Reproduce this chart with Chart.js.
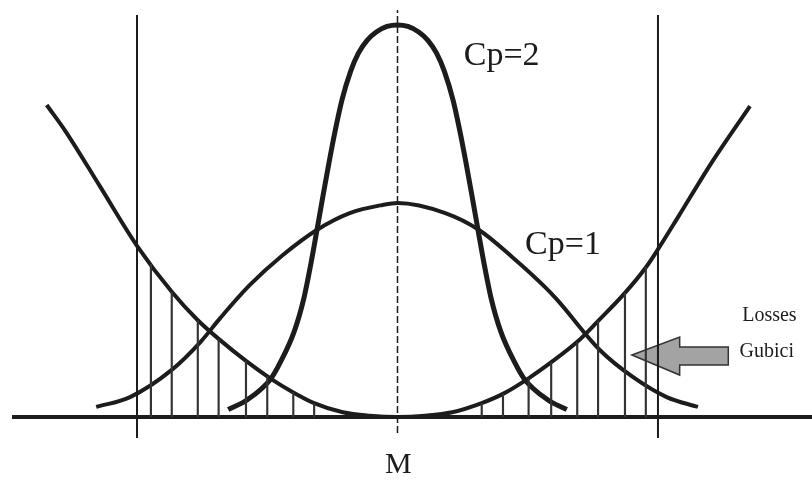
<!DOCTYPE html>
<html>
<head>
<meta charset="utf-8">
<script src="https://cdn.jsdelivr.net/npm/chart.js@4.4.1/dist/chart.umd.min.js"></script>
<style>
  body { margin: 0; background: #fff; }
  #wrap { width: 812px; height: 480px; }
</style>
</head>
<body>
<div id="wrap"><canvas id="myChart" width="812" height="480"></canvas></div>
<script>
// x in sigma units of the Cp=1 process (M = 0, limits at -3 / +3)
// y in units of the Cp=1 peak height
const cp1X = [-3.47, -3.08, -2.60, -2.27, -2.04, -1.70, -1.32, -0.93, -0.55, -0.17, 0, 0.55, 0.94, 1.32, 1.70, 1.84, 2.33, 2.71, 3.10, 3.46];
const cp1Y = [0.047, 0.093, 0.220, 0.350, 0.463, 0.617, 0.757, 0.874, 0.953, 0.991, 1.0, 0.953, 0.874, 0.748, 0.607, 0.547, 0.313, 0.187, 0.093, 0.047];

const cp2X = [-1.95, -1.725, -1.46, -1.35, -1.19, -1.077, -0.997, -0.933, -0.864, -0.79, -0.72, -0.64, -0.54, -0.45, -0.35, -0.24, -0.12, 0, 0.12, 0.24, 0.35, 0.45, 0.54, 0.64, 0.72, 0.79, 0.864, 0.933, 0.997, 1.077, 1.19, 1.35, 1.46, 1.725, 1.95];
const cp2Y = [0.035, 0.082, 0.178, 0.255, 0.399, 0.557, 0.717, 0.861, 1.020, 1.186, 1.333, 1.481, 1.615, 1.700, 1.760, 1.800, 1.825, 1.832, 1.825, 1.800, 1.760, 1.700, 1.615, 1.481, 1.333, 1.186, 1.020, 0.861, 0.717, 0.557, 0.399, 0.255, 0.178, 0.082, 0.035];

// loss function (parabola)
const lossX = [-4.04, -3.81, -3.43, -3.00, -2.60, -2.30, -2.06, -1.745, -1.47, -1.20, -0.96, -0.63, -0.32, 0, 0.32, 0.63, 0.97, 1.215, 1.514, 1.768, 2.067, 2.309, 2.62, 2.862, 3.01, 3.24, 3.62, 4.06];
const lossY = [1.458, 1.327, 1.080, 0.800, 0.585, 0.452, 0.365, 0.262, 0.182, 0.115, 0.065, 0.022, 0.006, 0, 0.006, 0.022, 0.065, 0.108, 0.182, 0.255, 0.350, 0.448, 0.580, 0.700, 0.790, 0.940, 1.190, 1.453];

// hatching under the loss curve
const hatchX = [-2.84, -2.60, -2.30, -2.06, -1.745, -1.50, -1.20, -0.96, 0.97, 1.215, 1.51, 1.77, 2.07, 2.31, 2.62, 2.86];
const hatchY = [0.714, 0.585, 0.452, 0.365, 0.262, 0.190, 0.115, 0.065, 0.065, 0.108, 0.182, 0.255, 0.350, 0.448, 0.580, 0.700];

const specLimits = [-3, 3];
const centerM = 0;

const ink = '#1c1c1c';
const serif = '"Liberation Serif", "Times New Roman", serif';

const pts = (xs, ys) => xs.map((x, i) => ({ x: x, y: ys[i] }));

const curve = (data, width) => ({
    type: 'line',
    data: data,
    borderColor: ink,
    borderWidth: width,
    pointRadius: 0,
    cubicInterpolationMode: 'monotone',
    fill: false
});

const straight = (data, width, dash) => ({
    type: 'line',
    data: data,
    borderColor: ink,
    borderWidth: width,
    borderDash: dash || [],
    pointRadius: 0,
    tension: 0,
    fill: false
});

const texts = [
    { text: 'Cp=2', x: 1.20, y: 1.687, size: 34 },
    { text: 'Cp=1', x: 1.906, y: 0.804, size: 34 },
    { text: 'M', x: 0.01, y: -0.224, size: 30 },
    { text: 'Losses', x: 3.97, y: 0.472, size: 20, align: 'left' },
    { text: 'Gubici', x: 3.94, y: 0.304, size: 20, align: 'left' }
];

// arrow pointing at the hatched area
const arrowShape = [[2.70, 0.290], [3.25, 0.374], [3.25, 0.327], [3.81, 0.327], [3.81, 0.243], [3.25, 0.243], [3.25, 0.196]];

const decor = {
    id: 'decor',
    beforeDatasetsDraw(chart) {
        const { ctx, scales: { x, y } } = chart;
        ctx.save();
        ctx.beginPath();
        arrowShape.forEach((p, i) => {
            const px = x.getPixelForValue(p[0]), py = y.getPixelForValue(p[1]);
            if (i === 0) ctx.moveTo(px, py); else ctx.lineTo(px, py);
        });
        ctx.closePath();
        ctx.fillStyle = '#a3a3a3';
        ctx.fill();
        ctx.lineWidth = 1.5;
        ctx.strokeStyle = '#333';
        ctx.stroke();
        ctx.restore();
    },
    afterDatasetsDraw(chart) {
        const { ctx, scales: { x, y } } = chart;
        ctx.save();
        ctx.fillStyle = ink;
        ctx.textBaseline = 'middle';
        texts.forEach(t => {
            ctx.font = t.size + 'px ' + serif;
            ctx.textAlign = t.align || 'center';
            ctx.fillText(t.text, x.getPixelForValue(t.x), y.getPixelForValue(t.y));
        });
        ctx.restore();
    }
};

const myChart = document.getElementById('myChart').getContext('2d');

const chart = new Chart(myChart, {
    type: 'line',
    data: {
        datasets: [
            {
                type: 'bar',
                data: pts(hatchX, hatchY),
                backgroundColor: '#333',
                borderWidth: 0,
                barThickness: 1.5,
                grouped: false
            },
            straight([{ x: specLimits[0], y: -0.098 }, { x: specLimits[0], y: 1.879 }], 2),
            straight([{ x: specLimits[1], y: -0.098 }, { x: specLimits[1], y: 1.879 }], 2),
            straight([{ x: centerM, y: -0.075 }, { x: centerM, y: 1.902 }], 1.5, [7, 3]),
            straight([{ x: -4.44, y: 0 }, { x: 4.78, y: 0 }], 4),
            curve(pts(lossX, lossY), 4),
            curve(pts(cp1X, cp1Y), 4),
            curve(pts(cp2X, cp2Y), 5)
        ]
    },
    options: {
        responsive: false,
        animation: false,
        layout: { padding: 0 },
        plugins: {
            legend: { display: false },
            tooltip: { enabled: false }
        },
        scales: {
            x: { type: 'linear', min: -4.578, max: 4.774, offset: false, display: false },
            y: { type: 'linear', min: -0.2944, max: 1.9486, display: false }
        }
    },
    plugins: [decor]
})
</script>
</body>
</html>
